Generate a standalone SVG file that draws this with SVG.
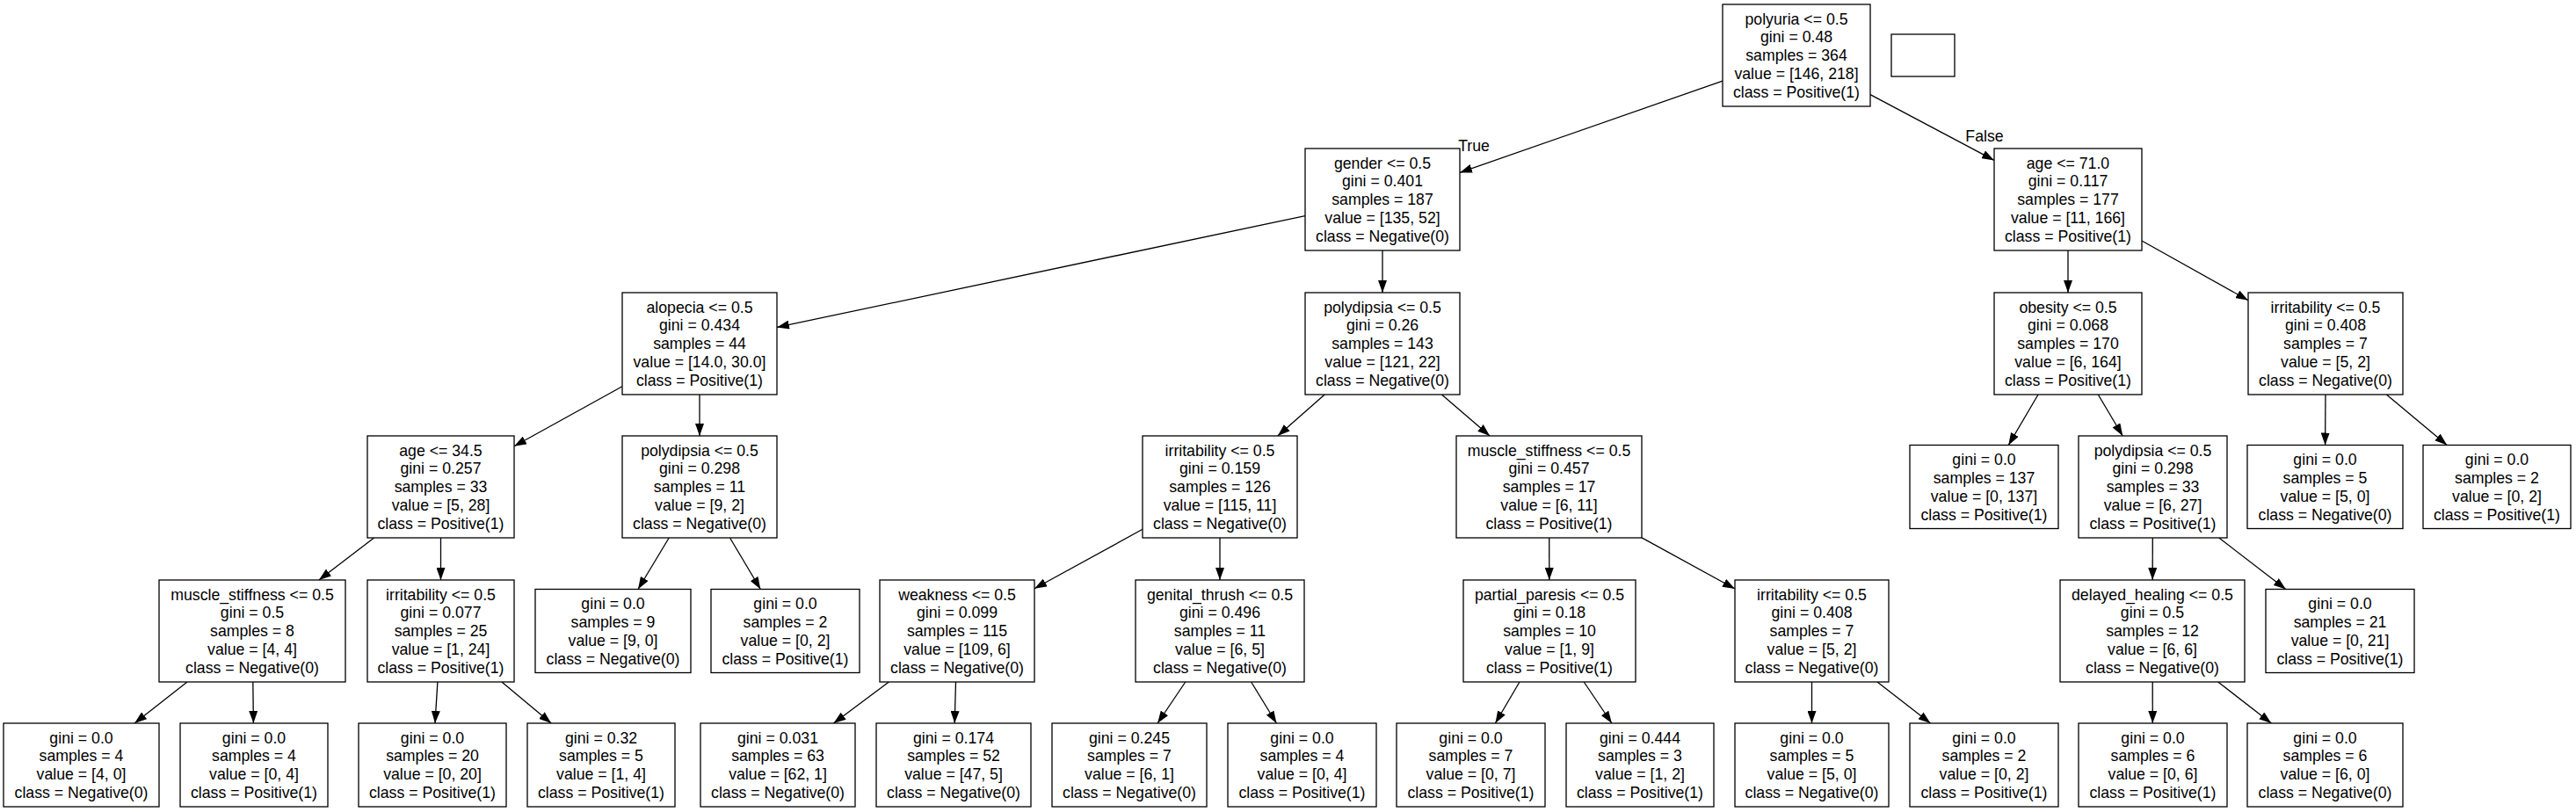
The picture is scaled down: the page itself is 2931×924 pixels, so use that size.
<svg xmlns="http://www.w3.org/2000/svg" width="2931" height="924" viewBox="0 0 2931 924">
<style>
.n rect{fill:#fff;stroke:#000;stroke-width:1.3}
.n text,.lbl{font-family:"Liberation Sans",Arial,Helvetica,sans-serif;font-size:17.7px;text-anchor:middle;fill:#000}
.e line{stroke:#000;stroke-width:1.3;marker-end:url(#a)}
</style>
<defs>
<marker id="a" viewBox="0 0 14 10" refX="14" refY="5" markerWidth="14" markerHeight="10" markerUnits="userSpaceOnUse" orient="auto"><path d="M0,0 L14,5 L0,10 z" fill="#000"/></marker>
</defs>
<rect width="2931" height="924" fill="#fff"/>
<g id="connectors" class="e">
<line x1="1960" y1="92.2" x2="1661" y2="196.4"/>
<line x1="2128" y1="107.6" x2="2269" y2="182.4"/>
<line x1="1485" y1="245.6" x2="884" y2="372.4"/>
<line x1="1573" y1="285" x2="1573" y2="333"/>
<line x1="708" y1="439.7" x2="585" y2="507.8"/>
<line x1="796" y1="449" x2="796" y2="496"/>
<line x1="425.6" y1="612" x2="362.9" y2="660"/>
<line x1="501.5" y1="612" x2="501.5" y2="660"/>
<line x1="213" y1="776" x2="153.1" y2="823"/>
<line x1="287.8" y1="776" x2="288.4" y2="823"/>
<line x1="497.9" y1="776" x2="495" y2="823"/>
<line x1="570.9" y1="776" x2="627.2" y2="823"/>
<line x1="761.2" y1="612" x2="726" y2="670.5"/>
<line x1="830.5" y1="612" x2="865.3" y2="670.5"/>
<line x1="1507.2" y1="449" x2="1453.8" y2="496"/>
<line x1="1640.4" y1="449" x2="1695.1" y2="496"/>
<line x1="1300" y1="602.3" x2="1177" y2="669.7"/>
<line x1="1388" y1="612" x2="1388" y2="660"/>
<line x1="1011.4" y1="776" x2="948.5" y2="823"/>
<line x1="1087.5" y1="776" x2="1086.2" y2="823"/>
<line x1="1348.8" y1="776" x2="1317.1" y2="823"/>
<line x1="1423.6" y1="776" x2="1452.4" y2="823"/>
<line x1="1762.7" y1="612" x2="1762.8" y2="660"/>
<line x1="1868" y1="611.9" x2="1974" y2="670"/>
<line x1="1729" y1="776" x2="1701.4" y2="823"/>
<line x1="1802.2" y1="776" x2="1833.9" y2="823"/>
<line x1="2061.5" y1="776" x2="2061.5" y2="823"/>
<line x1="2136" y1="776" x2="2196.5" y2="823"/>
<line x1="2353" y1="285" x2="2353" y2="333"/>
<line x1="2437" y1="274" x2="2558" y2="341.7"/>
<line x1="2319" y1="449" x2="2285.3" y2="506.5"/>
<line x1="2387.3" y1="449" x2="2415.2" y2="496"/>
<line x1="2449.3" y1="612" x2="2449.2" y2="660"/>
<line x1="2524.8" y1="612" x2="2600.8" y2="670.5"/>
<line x1="2449.2" y1="776" x2="2449.3" y2="823"/>
<line x1="2523.7" y1="776" x2="2584.3" y2="823"/>
<line x1="2646" y1="449" x2="2645.6" y2="506.5"/>
<line x1="2715.4" y1="449" x2="2784.2" y2="506.5"/>
<text class="lbl" x="1677" y="172">True</text>
<text class="lbl" x="2258" y="161">False</text>
</g>
<g id="legend" class="n"><rect x="2152" y="39" width="72" height="48"/></g>
<g id="n0" class="n"><rect x="1960" y="5" width="168" height="116"/><text x="2044" y="27.5">polyuria &lt;= 0.5<tspan x="2044" dy="20.9">gini = 0.48</tspan><tspan x="2044" dy="20.9">samples = 364</tspan><tspan x="2044" dy="20.9">value = [146, 218]</tspan><tspan x="2044" dy="20.9">class = Positive(1)</tspan></text></g>
<g id="n1" class="n"><rect x="1485" y="169" width="176" height="116"/><text x="1573" y="191.5">gender &lt;= 0.5<tspan x="1573" dy="20.9">gini = 0.401</tspan><tspan x="1573" dy="20.9">samples = 187</tspan><tspan x="1573" dy="20.9">value = [135, 52]</tspan><tspan x="1573" dy="20.9">class = Negative(0)</tspan></text></g>
<g id="n2" class="n"><rect x="708" y="333" width="176" height="116"/><text x="796" y="355.5">alopecia &lt;= 0.5<tspan x="796" dy="20.9">gini = 0.434</tspan><tspan x="796" dy="20.9">samples = 44</tspan><tspan x="796" dy="20.9">value = [14.0, 30.0]</tspan><tspan x="796" dy="20.9">class = Positive(1)</tspan></text></g>
<g id="n3" class="n"><rect x="418" y="496" width="167" height="116"/><text x="501.5" y="518.5">age &lt;= 34.5<tspan x="501.5" dy="20.9">gini = 0.257</tspan><tspan x="501.5" dy="20.9">samples = 33</tspan><tspan x="501.5" dy="20.9">value = [5, 28]</tspan><tspan x="501.5" dy="20.9">class = Positive(1)</tspan></text></g>
<g id="n4" class="n"><rect x="181" y="660" width="212" height="116"/><text x="287" y="682.5">muscle_stiffness &lt;= 0.5<tspan x="287" dy="20.9">gini = 0.5</tspan><tspan x="287" dy="20.9">samples = 8</tspan><tspan x="287" dy="20.9">value = [4, 4]</tspan><tspan x="287" dy="20.9">class = Negative(0)</tspan></text></g>
<g id="n5" class="n"><rect x="4" y="823" width="177" height="95"/><text x="92.5" y="845.5">gini = 0.0<tspan x="92.5" dy="20.9">samples = 4</tspan><tspan x="92.5" dy="20.9">value = [4, 0]</tspan><tspan x="92.5" dy="20.9">class = Negative(0)</tspan></text></g>
<g id="n6" class="n"><rect x="205" y="823" width="168" height="95"/><text x="289" y="845.5">gini = 0.0<tspan x="289" dy="20.9">samples = 4</tspan><tspan x="289" dy="20.9">value = [0, 4]</tspan><tspan x="289" dy="20.9">class = Positive(1)</tspan></text></g>
<g id="n7" class="n"><rect x="418" y="660" width="167" height="116"/><text x="501.5" y="682.5">irritability &lt;= 0.5<tspan x="501.5" dy="20.9">gini = 0.077</tspan><tspan x="501.5" dy="20.9">samples = 25</tspan><tspan x="501.5" dy="20.9">value = [1, 24]</tspan><tspan x="501.5" dy="20.9">class = Positive(1)</tspan></text></g>
<g id="n8" class="n"><rect x="408" y="823" width="168" height="95"/><text x="492" y="845.5">gini = 0.0<tspan x="492" dy="20.9">samples = 20</tspan><tspan x="492" dy="20.9">value = [0, 20]</tspan><tspan x="492" dy="20.9">class = Positive(1)</tspan></text></g>
<g id="n9" class="n"><rect x="600" y="823" width="168" height="95"/><text x="684" y="845.5">gini = 0.32<tspan x="684" dy="20.9">samples = 5</tspan><tspan x="684" dy="20.9">value = [1, 4]</tspan><tspan x="684" dy="20.9">class = Positive(1)</tspan></text></g>
<g id="n10" class="n"><rect x="708" y="496" width="176" height="116"/><text x="796" y="518.5">polydipsia &lt;= 0.5<tspan x="796" dy="20.9">gini = 0.298</tspan><tspan x="796" dy="20.9">samples = 11</tspan><tspan x="796" dy="20.9">value = [9, 2]</tspan><tspan x="796" dy="20.9">class = Negative(0)</tspan></text></g>
<g id="n11" class="n"><rect x="609" y="670.5" width="177" height="95"/><text x="697.5" y="693">gini = 0.0<tspan x="697.5" dy="20.9">samples = 9</tspan><tspan x="697.5" dy="20.9">value = [9, 0]</tspan><tspan x="697.5" dy="20.9">class = Negative(0)</tspan></text></g>
<g id="n12" class="n"><rect x="809" y="670.5" width="169" height="95"/><text x="893.5" y="693">gini = 0.0<tspan x="893.5" dy="20.9">samples = 2</tspan><tspan x="893.5" dy="20.9">value = [0, 2]</tspan><tspan x="893.5" dy="20.9">class = Positive(1)</tspan></text></g>
<g id="n13" class="n"><rect x="1485" y="333" width="176" height="116"/><text x="1573" y="355.5">polydipsia &lt;= 0.5<tspan x="1573" dy="20.9">gini = 0.26</tspan><tspan x="1573" dy="20.9">samples = 143</tspan><tspan x="1573" dy="20.9">value = [121, 22]</tspan><tspan x="1573" dy="20.9">class = Negative(0)</tspan></text></g>
<g id="n14" class="n"><rect x="1300" y="496" width="176" height="116"/><text x="1388" y="518.5">irritability &lt;= 0.5<tspan x="1388" dy="20.9">gini = 0.159</tspan><tspan x="1388" dy="20.9">samples = 126</tspan><tspan x="1388" dy="20.9">value = [115, 11]</tspan><tspan x="1388" dy="20.9">class = Negative(0)</tspan></text></g>
<g id="n15" class="n"><rect x="1001" y="660" width="176" height="116"/><text x="1089" y="682.5">weakness &lt;= 0.5<tspan x="1089" dy="20.9">gini = 0.099</tspan><tspan x="1089" dy="20.9">samples = 115</tspan><tspan x="1089" dy="20.9">value = [109, 6]</tspan><tspan x="1089" dy="20.9">class = Negative(0)</tspan></text></g>
<g id="n16" class="n"><rect x="797" y="823" width="176" height="95"/><text x="885" y="845.5">gini = 0.031<tspan x="885" dy="20.9">samples = 63</tspan><tspan x="885" dy="20.9">value = [62, 1]</tspan><tspan x="885" dy="20.9">class = Negative(0)</tspan></text></g>
<g id="n17" class="n"><rect x="997" y="823" width="176" height="95"/><text x="1085" y="845.5">gini = 0.174<tspan x="1085" dy="20.9">samples = 52</tspan><tspan x="1085" dy="20.9">value = [47, 5]</tspan><tspan x="1085" dy="20.9">class = Negative(0)</tspan></text></g>
<g id="n18" class="n"><rect x="1292" y="660" width="192" height="116"/><text x="1388" y="682.5">genital_thrush &lt;= 0.5<tspan x="1388" dy="20.9">gini = 0.496</tspan><tspan x="1388" dy="20.9">samples = 11</tspan><tspan x="1388" dy="20.9">value = [6, 5]</tspan><tspan x="1388" dy="20.9">class = Negative(0)</tspan></text></g>
<g id="n19" class="n"><rect x="1197" y="823" width="176" height="95"/><text x="1285" y="845.5">gini = 0.245<tspan x="1285" dy="20.9">samples = 7</tspan><tspan x="1285" dy="20.9">value = [6, 1]</tspan><tspan x="1285" dy="20.9">class = Negative(0)</tspan></text></g>
<g id="n20" class="n"><rect x="1397" y="823" width="169" height="95"/><text x="1481.5" y="845.5">gini = 0.0<tspan x="1481.5" dy="20.9">samples = 4</tspan><tspan x="1481.5" dy="20.9">value = [0, 4]</tspan><tspan x="1481.5" dy="20.9">class = Positive(1)</tspan></text></g>
<g id="n21" class="n"><rect x="1657" y="496" width="211" height="116"/><text x="1762.5" y="518.5">muscle_stiffness &lt;= 0.5<tspan x="1762.5" dy="20.9">gini = 0.457</tspan><tspan x="1762.5" dy="20.9">samples = 17</tspan><tspan x="1762.5" dy="20.9">value = [6, 11]</tspan><tspan x="1762.5" dy="20.9">class = Positive(1)</tspan></text></g>
<g id="n22" class="n"><rect x="1665" y="660" width="196" height="116"/><text x="1763" y="682.5">partial_paresis &lt;= 0.5<tspan x="1763" dy="20.9">gini = 0.18</tspan><tspan x="1763" dy="20.9">samples = 10</tspan><tspan x="1763" dy="20.9">value = [1, 9]</tspan><tspan x="1763" dy="20.9">class = Positive(1)</tspan></text></g>
<g id="n23" class="n"><rect x="1589" y="823" width="169" height="95"/><text x="1673.5" y="845.5">gini = 0.0<tspan x="1673.5" dy="20.9">samples = 7</tspan><tspan x="1673.5" dy="20.9">value = [0, 7]</tspan><tspan x="1673.5" dy="20.9">class = Positive(1)</tspan></text></g>
<g id="n24" class="n"><rect x="1782" y="823" width="168" height="95"/><text x="1866" y="845.5">gini = 0.444<tspan x="1866" dy="20.9">samples = 3</tspan><tspan x="1866" dy="20.9">value = [1, 2]</tspan><tspan x="1866" dy="20.9">class = Positive(1)</tspan></text></g>
<g id="n25" class="n"><rect x="1974" y="660" width="175" height="116"/><text x="2061.5" y="682.5">irritability &lt;= 0.5<tspan x="2061.5" dy="20.9">gini = 0.408</tspan><tspan x="2061.5" dy="20.9">samples = 7</tspan><tspan x="2061.5" dy="20.9">value = [5, 2]</tspan><tspan x="2061.5" dy="20.9">class = Negative(0)</tspan></text></g>
<g id="n26" class="n"><rect x="1974" y="823" width="175" height="95"/><text x="2061.5" y="845.5">gini = 0.0<tspan x="2061.5" dy="20.9">samples = 5</tspan><tspan x="2061.5" dy="20.9">value = [5, 0]</tspan><tspan x="2061.5" dy="20.9">class = Negative(0)</tspan></text></g>
<g id="n27" class="n"><rect x="2173" y="823" width="169" height="95"/><text x="2257.5" y="845.5">gini = 0.0<tspan x="2257.5" dy="20.9">samples = 2</tspan><tspan x="2257.5" dy="20.9">value = [0, 2]</tspan><tspan x="2257.5" dy="20.9">class = Positive(1)</tspan></text></g>
<g id="n28" class="n"><rect x="2269" y="169" width="168" height="116"/><text x="2353" y="191.5">age &lt;= 71.0<tspan x="2353" dy="20.9">gini = 0.117</tspan><tspan x="2353" dy="20.9">samples = 177</tspan><tspan x="2353" dy="20.9">value = [11, 166]</tspan><tspan x="2353" dy="20.9">class = Positive(1)</tspan></text></g>
<g id="n29" class="n"><rect x="2269" y="333" width="168" height="116"/><text x="2353" y="355.5">obesity &lt;= 0.5<tspan x="2353" dy="20.9">gini = 0.068</tspan><tspan x="2353" dy="20.9">samples = 170</tspan><tspan x="2353" dy="20.9">value = [6, 164]</tspan><tspan x="2353" dy="20.9">class = Positive(1)</tspan></text></g>
<g id="n30" class="n"><rect x="2173" y="506.5" width="169" height="95"/><text x="2257.5" y="529">gini = 0.0<tspan x="2257.5" dy="20.9">samples = 137</tspan><tspan x="2257.5" dy="20.9">value = [0, 137]</tspan><tspan x="2257.5" dy="20.9">class = Positive(1)</tspan></text></g>
<g id="n31" class="n"><rect x="2365" y="496" width="169" height="116"/><text x="2449.5" y="518.5">polydipsia &lt;= 0.5<tspan x="2449.5" dy="20.9">gini = 0.298</tspan><tspan x="2449.5" dy="20.9">samples = 33</tspan><tspan x="2449.5" dy="20.9">value = [6, 27]</tspan><tspan x="2449.5" dy="20.9">class = Positive(1)</tspan></text></g>
<g id="n32" class="n"><rect x="2344" y="660" width="210" height="116"/><text x="2449" y="682.5">delayed_healing &lt;= 0.5<tspan x="2449" dy="20.9">gini = 0.5</tspan><tspan x="2449" dy="20.9">samples = 12</tspan><tspan x="2449" dy="20.9">value = [6, 6]</tspan><tspan x="2449" dy="20.9">class = Negative(0)</tspan></text></g>
<g id="n33" class="n"><rect x="2365" y="823" width="169" height="95"/><text x="2449.5" y="845.5">gini = 0.0<tspan x="2449.5" dy="20.9">samples = 6</tspan><tspan x="2449.5" dy="20.9">value = [0, 6]</tspan><tspan x="2449.5" dy="20.9">class = Positive(1)</tspan></text></g>
<g id="n34" class="n"><rect x="2557" y="823" width="177" height="95"/><text x="2645.5" y="845.5">gini = 0.0<tspan x="2645.5" dy="20.9">samples = 6</tspan><tspan x="2645.5" dy="20.9">value = [6, 0]</tspan><tspan x="2645.5" dy="20.9">class = Negative(0)</tspan></text></g>
<g id="n35" class="n"><rect x="2578" y="670.5" width="169" height="95"/><text x="2662.5" y="693">gini = 0.0<tspan x="2662.5" dy="20.9">samples = 21</tspan><tspan x="2662.5" dy="20.9">value = [0, 21]</tspan><tspan x="2662.5" dy="20.9">class = Positive(1)</tspan></text></g>
<g id="n36" class="n"><rect x="2558" y="333" width="176" height="116"/><text x="2646" y="355.5">irritability &lt;= 0.5<tspan x="2646" dy="20.9">gini = 0.408</tspan><tspan x="2646" dy="20.9">samples = 7</tspan><tspan x="2646" dy="20.9">value = [5, 2]</tspan><tspan x="2646" dy="20.9">class = Negative(0)</tspan></text></g>
<g id="n37" class="n"><rect x="2557" y="506.5" width="177" height="95"/><text x="2645.5" y="529">gini = 0.0<tspan x="2645.5" dy="20.9">samples = 5</tspan><tspan x="2645.5" dy="20.9">value = [5, 0]</tspan><tspan x="2645.5" dy="20.9">class = Negative(0)</tspan></text></g>
<g id="n38" class="n"><rect x="2757" y="506.5" width="168" height="95"/><text x="2841" y="529">gini = 0.0<tspan x="2841" dy="20.9">samples = 2</tspan><tspan x="2841" dy="20.9">value = [0, 2]</tspan><tspan x="2841" dy="20.9">class = Positive(1)</tspan></text></g>
</svg>
